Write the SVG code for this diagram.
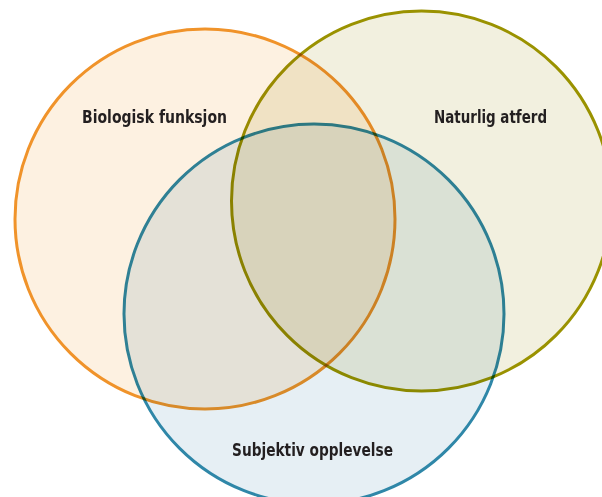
<svg xmlns="http://www.w3.org/2000/svg" width="602" height="497" viewBox="0 0 602 497">
  <style>
    .c { mix-blend-mode: multiply; stroke-width: 3; }
    .lbl { font-family: "DejaVu Sans Condensed", "DejaVu Sans", sans-serif; font-weight: bold; font-size: 17px; fill: #231f20; text-anchor: middle; }
  </style>
  <rect width="602" height="497" fill="#ffffff"/>
  <g id="bio">
    <circle class="c" cx="205" cy="219" r="190" fill="#fdf1e1" stroke="#f0932a"/>
  </g>
  <g id="nat">
    <circle class="c" cx="421.5" cy="201" r="190" fill="#f2f0df" stroke="#9a9200"/>
  </g>
  <g id="subj">
    <circle class="c" cx="314" cy="314" r="190" fill="#e6eff4" stroke="#2f87a8"/>
  </g>
  <g id="labels">
    <text class="lbl" x="154.5" y="122.5" textLength="145" lengthAdjust="spacingAndGlyphs">Biologisk funksjon</text>
    <text class="lbl" x="490.5" y="122.5" textLength="113" lengthAdjust="spacingAndGlyphs">Naturlig atferd</text>
    <text class="lbl" x="312.5" y="456" textLength="161" lengthAdjust="spacingAndGlyphs">Subjektiv opplevelse</text>
  </g>
</svg>
